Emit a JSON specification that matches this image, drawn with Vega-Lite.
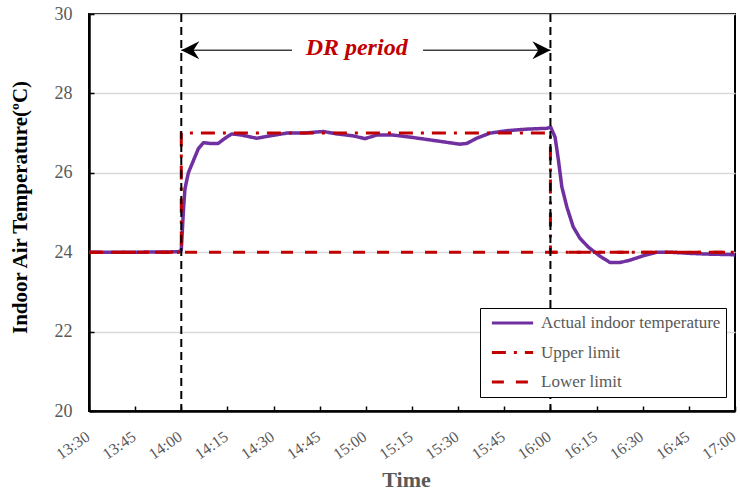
{
  "$schema": "https://vega.github.io/schema/vega-lite/v6.json",
  "width": 646,
  "height": 397,
  "autosize": {"type": "none"},
  "padding": {"left": 89, "top": 14, "right": 5, "bottom": 84},
  "background": "white",
  "config": {
    "font": "Liberation Serif",
    "view": {"stroke": "black", "strokeWidth": 2},
    "axis": {
      "labelFont": "Liberation Serif",
      "titleFont": "Liberation Serif",
      "domainColor": "black",
      "domainWidth": 2.5,
      "tickColor": "black",
      "tickWidth": 1.5,
      "labelColor": "#595959"
    }
  },
  "datasets": {
    "lines": [
      {"series": "Actual indoor temperature", "time": "2020-01-01T13:30:00", "temp": 24.0},
      {"series": "Actual indoor temperature", "time": "2020-01-01T13:45:00", "temp": 24.0},
      {"series": "Actual indoor temperature", "time": "2020-01-01T13:59:00", "temp": 24.01},
      {"series": "Actual indoor temperature", "time": "2020-01-01T14:00:00", "temp": 24.05},
      {"series": "Actual indoor temperature", "time": "2020-01-01T14:00:42", "temp": 25.06},
      {"series": "Actual indoor temperature", "time": "2020-01-01T14:01:12", "temp": 25.6},
      {"series": "Actual indoor temperature", "time": "2020-01-01T14:02:18", "temp": 26.0},
      {"series": "Actual indoor temperature", "time": "2020-01-01T14:03:54", "temp": 26.3},
      {"series": "Actual indoor temperature", "time": "2020-01-01T14:05:30", "temp": 26.6},
      {"series": "Actual indoor temperature", "time": "2020-01-01T14:07:12", "temp": 26.76},
      {"series": "Actual indoor temperature", "time": "2020-01-01T14:09:18", "temp": 26.74},
      {"series": "Actual indoor temperature", "time": "2020-01-01T14:12:00", "temp": 26.74},
      {"series": "Actual indoor temperature", "time": "2020-01-01T14:14:12", "temp": 26.87},
      {"series": "Actual indoor temperature", "time": "2020-01-01T14:16:24", "temp": 26.98},
      {"series": "Actual indoor temperature", "time": "2020-01-01T14:19:36", "temp": 26.95},
      {"series": "Actual indoor temperature", "time": "2020-01-01T14:24:30", "temp": 26.87},
      {"series": "Actual indoor temperature", "time": "2020-01-01T14:28:48", "temp": 26.93},
      {"series": "Actual indoor temperature", "time": "2020-01-01T14:34:18", "temp": 27.0},
      {"series": "Actual indoor temperature", "time": "2020-01-01T14:39:42", "temp": 27.0},
      {"series": "Actual indoor temperature", "time": "2020-01-01T14:46:12", "temp": 27.04},
      {"series": "Actual indoor temperature", "time": "2020-01-01T14:50:30", "temp": 26.98},
      {"series": "Actual indoor temperature", "time": "2020-01-01T14:55:54", "temp": 26.93},
      {"series": "Actual indoor temperature", "time": "2020-01-01T14:59:42", "temp": 26.86},
      {"series": "Actual indoor temperature", "time": "2020-01-01T15:03:30", "temp": 26.95},
      {"series": "Actual indoor temperature", "time": "2020-01-01T15:08:54", "temp": 26.95},
      {"series": "Actual indoor temperature", "time": "2020-01-01T15:14:18", "temp": 26.9},
      {"series": "Actual indoor temperature", "time": "2020-01-01T15:19:48", "temp": 26.84},
      {"series": "Actual indoor temperature", "time": "2020-01-01T15:25:12", "temp": 26.78},
      {"series": "Actual indoor temperature", "time": "2020-01-01T15:30:36", "temp": 26.72},
      {"series": "Actual indoor temperature", "time": "2020-01-01T15:32:48", "temp": 26.74},
      {"series": "Actual indoor temperature", "time": "2020-01-01T15:36:00", "temp": 26.87},
      {"series": "Actual indoor temperature", "time": "2020-01-01T15:40:24", "temp": 27.0},
      {"series": "Actual indoor temperature", "time": "2020-01-01T15:45:48", "temp": 27.06},
      {"series": "Actual indoor temperature", "time": "2020-01-01T15:52:18", "temp": 27.1},
      {"series": "Actual indoor temperature", "time": "2020-01-01T15:58:48", "temp": 27.12},
      {"series": "Actual indoor temperature", "time": "2020-01-01T16:00:06", "temp": 27.15},
      {"series": "Actual indoor temperature", "time": "2020-01-01T16:01:30", "temp": 26.9},
      {"series": "Actual indoor temperature", "time": "2020-01-01T16:02:36", "temp": 26.32},
      {"series": "Actual indoor temperature", "time": "2020-01-01T16:03:42", "temp": 25.65},
      {"series": "Actual indoor temperature", "time": "2020-01-01T16:05:18", "temp": 25.15},
      {"series": "Actual indoor temperature", "time": "2020-01-01T16:07:24", "temp": 24.64},
      {"series": "Actual indoor temperature", "time": "2020-01-01T16:09:36", "temp": 24.35},
      {"series": "Actual indoor temperature", "time": "2020-01-01T16:12:18", "temp": 24.13},
      {"series": "Actual indoor temperature", "time": "2020-01-01T16:16:06", "temp": 23.9},
      {"series": "Actual indoor temperature", "time": "2020-01-01T16:19:24", "temp": 23.74},
      {"series": "Actual indoor temperature", "time": "2020-01-01T16:22:36", "temp": 23.74},
      {"series": "Actual indoor temperature", "time": "2020-01-01T16:25:54", "temp": 23.8},
      {"series": "Actual indoor temperature", "time": "2020-01-01T16:30:12", "temp": 23.91},
      {"series": "Actual indoor temperature", "time": "2020-01-01T16:34:36", "temp": 24.0},
      {"series": "Actual indoor temperature", "time": "2020-01-01T16:38:54", "temp": 24.0},
      {"series": "Actual indoor temperature", "time": "2020-01-01T16:45:24", "temp": 23.97},
      {"series": "Actual indoor temperature", "time": "2020-01-01T16:51:54", "temp": 23.95},
      {"series": "Actual indoor temperature", "time": "2020-01-01T16:58:24", "temp": 23.94},
      {"series": "Actual indoor temperature", "time": "2020-01-01T17:00:00", "temp": 23.93},
      {"series": "Lower limit", "time": "2020-01-01T13:30:00", "temp": 24, "k": 1},
      {"series": "Lower limit", "time": "2020-01-01T17:00:00", "temp": 24, "k": 2},
      {"series": "Upper limit", "time": "2020-01-01T13:30:00", "temp": 24, "k": 1},
      {"series": "Upper limit", "time": "2020-01-01T14:00:00", "temp": 24, "k": 2},
      {"series": "Upper limit", "time": "2020-01-01T14:00:00", "temp": 27, "k": 3},
      {"series": "Upper limit", "time": "2020-01-01T16:00:00", "temp": 27, "k": 4},
      {"series": "Upper limit", "time": "2020-01-01T16:00:00", "temp": 24, "k": 5},
      {"series": "Upper limit", "time": "2020-01-01T17:00:00", "temp": 24, "k": 6}
    ]
  },
  "layer": [
    {
      "data": {"name": "lines"},
      "transform": [{"filter": "datum.series === 'Actual indoor temperature'"}],
      "mark": {"type": "line", "strokeWidth": 3.5, "strokeJoin": "round"},
      "encoding": {
        "x": {
          "field": "time", "type": "temporal",
          "scale": {"domain": [{"year": 2020, "month": 1, "date": 1, "hours": 13, "minutes": 30}, {"year": 2020, "month": 1, "date": 1, "hours": 17, "minutes": 0}], "nice": false},
          "axis": {
            "title": "Time",
            "format": "%H:%M",
            "values": [
              {"year": 2020, "month": 1, "date": 1, "hours": 13, "minutes": 30},
              {"year": 2020, "month": 1, "date": 1, "hours": 13, "minutes": 45},
              {"year": 2020, "month": 1, "date": 1, "hours": 14, "minutes": 0},
              {"year": 2020, "month": 1, "date": 1, "hours": 14, "minutes": 15},
              {"year": 2020, "month": 1, "date": 1, "hours": 14, "minutes": 30},
              {"year": 2020, "month": 1, "date": 1, "hours": 14, "minutes": 45},
              {"year": 2020, "month": 1, "date": 1, "hours": 15, "minutes": 0},
              {"year": 2020, "month": 1, "date": 1, "hours": 15, "minutes": 15},
              {"year": 2020, "month": 1, "date": 1, "hours": 15, "minutes": 30},
              {"year": 2020, "month": 1, "date": 1, "hours": 15, "minutes": 45},
              {"year": 2020, "month": 1, "date": 1, "hours": 16, "minutes": 0},
              {"year": 2020, "month": 1, "date": 1, "hours": 16, "minutes": 15},
              {"year": 2020, "month": 1, "date": 1, "hours": 16, "minutes": 30},
              {"year": 2020, "month": 1, "date": 1, "hours": 16, "minutes": 45},
              {"year": 2020, "month": 1, "date": 1, "hours": 17, "minutes": 0}
            ],
            "grid": false,
            "labelAngle": -35,
            "labelAlign": "right",
            "labelBaseline": "top",
            "labelFontSize": 16,
            "labelPadding": 22,
            "labelOffset": -6,
            "tickSize": -5,
            "labelFlush": false,
            "labelOverlap": false,
            "titleFontSize": 22,
            "titleFontWeight": "bold",
            "titleColor": "#595959",
            "titleX": 317,
            "titleY": 75,
            "titleBaseline": "alphabetic",
            "titleAlign": "center"
          }
        },
        "y": {
          "field": "temp", "type": "quantitative",
          "scale": {"domain": [20, 30], "nice": false, "zero": false},
          "axis": {
            "title": "Indoor Air Temperature(ºC)",
            "values": [20, 21, 22, 23, 24, 25, 26, 27, 28, 29, 30],
            "labelExpr": "datum.value % 2 === 0 ? datum.label : ''",
            "labelFontSize": 18,
            "labelPadding": 22,
            "tickSize": -5,
            "grid": true,
            "gridWidth": 1.5,
            "gridColor": {"condition": {"test": "datum.value % 2 === 1", "value": "transparent"}, "value": "#d9d9d9"},
            "titleFontSize": 21,
            "titleFontWeight": "bold",
            "titleColor": "black",
            "titleX": -69,
            "titleY": 193,
            "titleBaseline": "middle",
            "titleAlign": "center"
          }
        },
        "color": {
          "field": "series", "type": "nominal",
          "scale": {"domain": ["Actual indoor temperature", "Upper limit", "Lower limit"], "range": ["#7030A0", "#C00000", "#C00000"]},
          "legend": {
            "title": null,
            "orient": "none",
            "legendX": 391,
            "legendY": 294,
            "symbolType": "stroke",
            "symbolSize": 1700,
            "symbolStrokeWidth": 3,
            "symbolOffset": 5,
            "labelFont": "Liberation Serif",
            "labelFontSize": 17,
            "labelColor": "#595959",
            "labelOffset": 6,
            "labelLimit": 300,
            "strokeColor": "black",
            "fillColor": "white",
            "padding": 5,
            "rowPadding": 9.5,
            "clipHeight": 20
          }
        },
        "strokeDash": {
          "field": "series", "type": "nominal",
          "scale": {"domain": ["Actual indoor temperature", "Upper limit", "Lower limit"], "range": [[1, 0], [14, 8, 3, 8], [12, 12]]},
          "legend": {
            "title": null,
            "orient": "none",
            "legendX": 391,
            "legendY": 294,
            "symbolType": "stroke",
            "symbolSize": 1700,
            "symbolStrokeWidth": 3,
            "symbolOffset": 5,
            "labelFont": "Liberation Serif",
            "labelFontSize": 17,
            "labelColor": "#595959",
            "labelOffset": 6,
            "labelLimit": 300,
            "strokeColor": "black",
            "fillColor": "white",
            "padding": 5,
            "rowPadding": 9.5,
            "clipHeight": 20
          }
        }
      }
    },
    {
      "data": {"name": "lines"},
      "transform": [{"filter": "datum.series !== 'Actual indoor temperature'"}],
      "mark": {"type": "line", "strokeWidth": 3},
      "encoding": {
        "x": {"field": "time", "type": "temporal"},
        "y": {"field": "temp", "type": "quantitative"},
        "color": {"field": "series", "type": "nominal"},
        "strokeDash": {"field": "series", "type": "nominal"},
        "order": {"field": "k", "type": "quantitative"}
      }
    },
    {
      "data": {"values": [{"time": "2020-01-01T14:00:00"}, {"time": "2020-01-01T16:00:00"}]},
      "mark": {"type": "rule", "color": "black", "strokeWidth": 2, "strokeDash": [8, 5]},
      "encoding": {"x": {"field": "time", "type": "temporal"}}
    },
    {
      "data": {"values": [
        {"start": "2020-01-01T14:00:00", "end": "2020-01-01T14:36:00", "y": 29.09},
        {"start": "2020-01-01T15:18:36", "end": "2020-01-01T16:00:00", "y": 29.09}
      ]},
      "mark": {"type": "rule", "color": "#404040", "strokeWidth": 1.5},
      "encoding": {
        "x": {"field": "start", "type": "temporal"},
        "x2": {"field": "end"},
        "y": {"field": "y", "type": "quantitative"}
      }
    },
    {
      "data": {"values": [
        {"time": "2020-01-01T14:00:00", "y": 29.09, "dir": "left"},
        {"time": "2020-01-01T16:00:00", "y": 29.09, "dir": "right"}
      ]},
      "mark": {"type": "point", "filled": true, "color": "black", "size": 324, "opacity": 1},
      "encoding": {
        "x": {"field": "time", "type": "temporal"},
        "y": {"field": "y", "type": "quantitative"},
        "shape": {
          "field": "dir", "type": "nominal",
          "scale": {"domain": ["left", "right"], "range": ["M 0 0 L 2 -1 L 1.35 0 L 2 1 Z", "M 0 0 L -2 -1 L -1.35 0 L -2 1 Z"]},
          "legend": null
        }
      }
    },
    {
      "data": {"values": [{"time": "2020-01-01T14:57:00", "y": 28.97, "label": "DR period"}]},
      "mark": {"type": "text", "font": "Liberation Serif", "fontSize": 24, "fontStyle": "italic", "fontWeight": "bold", "color": "#C00000", "baseline": "alphabetic", "align": "center"},
      "encoding": {
        "x": {"field": "time", "type": "temporal"},
        "y": {"field": "y", "type": "quantitative"},
        "text": {"field": "label"}
      }
    }
  ]
}
